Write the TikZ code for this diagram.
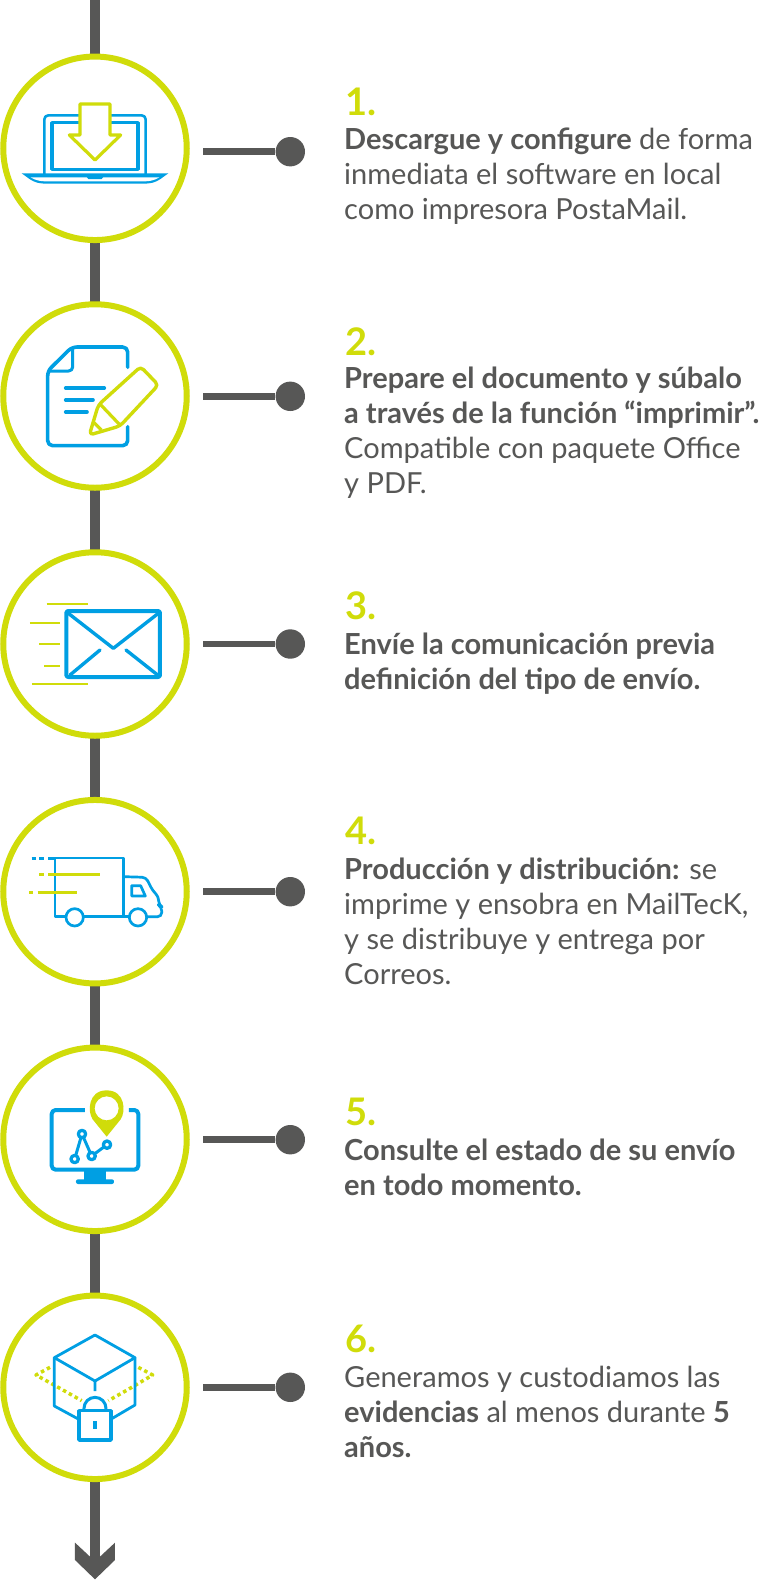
\documentclass[tikz,border=0pt]{standalone}
\usepackage{fontspec}
\setmainfont{Lato}
\definecolor{lime}{HTML}{D0DC0A}
\definecolor{sky}{HTML}{009FE3}
\definecolor{ink}{HTML}{575756}
\newcommand{\firstline}{\rule{0pt}{22pt}}
\tikzset{
  ring/.style={circle,draw=lime,line width=6pt,fill=white,minimum size=183.5pt,inner sep=0pt},
  enddot/.style={circle,fill=ink,minimum size=29.4pt,inner sep=0pt},
  spine/.style={draw=ink,line width=10pt},
  arm/.style={draw=ink,line width=6.7pt},
  num/.style={anchor=base west,inner sep=0pt,text=lime,font=\fontsize{38}{38}\selectfont\bfseries},
  body/.style={anchor=north west,inner sep=0pt,text=ink,align=left,font=\fontsize{29}{35.1}\selectfont},
  zoomed/.style={x=0.33333pt,y=-0.33333pt},
  bl/.style={draw=sky,line join=round},
  gr/.style={draw=lime,line join=round},
}
\begin{document}
\begin{tikzpicture}[x=1pt,y=-1pt]
\useasboundingbox (0,0) rectangle (768,1580);
\fill[white] (0,0) rectangle (768,1580);
\coordinate (top) at (95,0);
\coordinate (tail) at (95,1557);
\foreach \i/\y in {1/148.3,2/396,3/644,4/891.7,5/1139.3,6/1387.3}{
  \coordinate (m\i) at (95,\y);
}
\draw[spine] (top) -- (m1) -- (m2) -- (m3) -- (m4) -- (m5) -- (m6) -- (tail);
\foreach \i/\y in {1/148.3,2/396,3/644,4/891.7,5/1139.3,6/1387.3}{
  \node[ring] (c\i) at (95,\y) {};
}
\foreach \i/\y in {1/151.7,2/396.3,3/644,4/891.7,5/1139.7,6/1387.3}{
  \node[enddot] (d\i) at (290.3,\y) {};
  \coordinate (s\i) at (203,\y);
  \draw[arm] (s\i) -- (d\i);
}
% arrow head
\begin{scope}[shift={(0,1280)},zoomed]
\fill[ink] (225,788) -- (270,830) -- (300,830) -- (345,788) -- (345,840) -- (285,898) -- (225,840) -- cycle;
\end{scope}
% icon 1
\begin{scope}[shift={(0,40)},zoomed]
\draw[bl,line width=2.6pt,rounded corners=4pt] (133,402) -- (133,226) -- (437,226) -- (437,402);
\draw[bl,line width=3.3pt] (156,248) rectangle (414,388);
\fill[sky] (65,400) -- (505,400) -- (480,418) .. controls (465,428) and (450,431) .. (430,431) -- (140,431) .. controls (120,431) and (105,428) .. (90,418) -- cycle;
\fill[white] (92,412) -- (478,412) .. controls (460,423) and (445,424) .. (430,424) -- (140,424) .. controls (125,424) and (110,423) .. cycle;
\fill[sky] (258,408) -- (312,408) -- (305,417) -- (265,417) -- cycle;
\draw[gr,fill=white,line width=3.2pt,miter limit=4] (240,192) -- (330,192) -- (330,285) -- (362,285) -- (285,360) -- (208,285) -- (240,285) -- cycle;
\end{scope}
% icon 2
\begin{scope}[shift={(0,290)},zoomed]
\draw[bl,line width=3.6pt,line cap=round,rounded corners=5pt] (383,232) -- (383,171) -- (216,171) -- (143,243) -- (143,467) -- (383,467) -- (383,410);
\draw[bl,line width=3pt,rounded corners=4pt] (218,171) -- (218,243) -- (143,243);
\draw[bl,line width=3.6pt,line cap=round] (197,294) -- (313,294) (197,330) -- (279,330) (197,366) -- (261,366);
\draw[gr,line width=3.4pt,rounded corners=4pt] (268,435) -- (295,345) -- (422,230) -- (475,285) -- (360,408) -- cycle;
\draw[gr,line width=3.2pt] (300,342) -- (360,405) (282,398) -- (304,420);
\end{scope}
% icon 3
\begin{scope}[shift={(0,540)},zoomed]
\draw[bl,line width=4pt,rounded corners=2pt] (199,213) rectangle (480,411);
\draw[bl,line width=3.4pt,line cap=round] (205,220) -- (340,325) -- (475,220) (210,405) -- (300,330) (378,330) -- (473,405);
\draw[gr,line width=2.2pt] (140,191) -- (263,191) (90,248) -- (180,248) (118,312) -- (180,312) (133,377) -- (180,377) (96,433) -- (263,433);
\end{scope}
% icon 4
\begin{scope}[shift={(0,790)},zoomed]
\draw[bl,line width=2.7pt] (197,380) -- (165,380) -- (165,204) -- (371,204) -- (371,380);
\draw[bl,line width=2.7pt] (250,380) -- (388,380);
\draw[bl,line width=2.7pt,rounded corners=4pt] (441,380) -- (485,380) -- (485,350) -- (476,345) -- (476,320) -- (458,302) -- (438,262) -- (371,260);
\draw[bl,line width=2.7pt] (224,382) circle[radius=26] (414,382) circle[radius=26];
\draw[bl,line width=2.7pt] (395,287) -- (422,287) -- (436,318) -- (395,318) -- cycle;
\draw[bl,line width=2.7pt] (95,205) -- (107,205) (118,205) -- (132,205) (145,205) -- (165,205);
\draw[gr,line width=2.7pt] (118,253) -- (132,253) (145,253) -- (300,253) (88,307) -- (100,307) (113,307) -- (231,307);
\end{scope}
% icon 5
\begin{scope}[shift={(0,1030)},zoomed]
\draw[bl,line width=4pt,rounded corners=4pt] (255,240) -- (155,240) -- (155,419) -- (415,419) -- (415,240) -- (387,240);
\fill[sky] (252,420) rectangle (318,450);
\fill[sky,rounded corners=2pt] (228,448) rectangle (342,462);
\draw[bl,line width=3pt] (224,387) -- (246,312) -- (275,378) -- (321,344);
\foreach \p in {(224,387),(246,312),(275,378),(321,344)}{
  \draw[bl,fill=white,line width=3.3pt] \p circle[radius=11];
}
\fill[lime,even odd rule] (320,320) -- (278,268) .. controls (262,245) and (264,181) .. (320,181) .. controls (376,181) and (378,245) .. (362,268) -- cycle (320,235) circle[radius=36];
\end{scope}
% icon 6
\begin{scope}[shift={(0,1280)},zoomed]
\draw[gr,line width=3.5pt,dash pattern=on 3.5pt off 3.2pt] (150,262) -- (108,285) -- (180,325) -- (245,362);
\draw[gr,line width=3.5pt,dash pattern=on 3.5pt off 3.2pt] (415,262) -- (458,285) -- (385,328) -- (325,362);
\draw[bl,line width=2.8pt] (285,165) -- (405,233) -- (285,303) -- (163,233) -- cycle;
\draw[bl,line width=2.8pt] (163,233) -- (163,378) -- (235,417) (405,233) -- (405,375) -- (337,415) (285,303) -- (285,333);
\draw[bl,line width=3pt] (252,392) -- (252,385) arc[start angle=180,end angle=360,radius=33] -- (318,392);
\draw[bl,fill=white,line width=3.6pt] (237,392) rectangle (333,480);
\fill[sky] (279,422) rectangle (291,448);
\end{scope}
% text
\node[num] (n1) at (345,115.7) {1.};
\node[body] (t1) at (344,127.3) {\firstline\textbf{Descargue y configure} de forma\\inmediata el software en local\\como impresora PostaMail.};
\node[num] (n2) at (345,355) {2.};
\node[body] (t2) at (344,366.3) {\firstline\textbf{Prepare el documento y súbalo}\\\textbf{a través de la función “imprimir”.}\\Compatible con paquete Office\\y PDF.};
\node[num] (n3) at (345,619.3) {3.};
\node[body] (t3) at (344,632) {\firstline\textbf{Envíe la comunicación previa}\\\textbf{definición del tipo de envío.}};
\node[num] (n4) at (345,844.3) {4.};
\node[body] (t4) at (344,857) {\firstline\textbf{Producción y distribución:} se\\imprime y ensobra en MailTecK,\\y se distribuye y entrega por\\Correos.};
\node[num] (n5) at (345,1125.3) {5.};
\node[body] (t5) at (344,1138) {\firstline\textbf{Consulte el estado de su envío}\\\textbf{en todo momento.}};
\node[num] (n6) at (345,1352.3) {6.};
\node[body] (t6) at (344,1365.3) {\firstline Generamos y custodiamos las\\\textbf{evidencias} al menos durante \textbf{5}\\\textbf{años.}};
\end{tikzpicture}
\end{document}
